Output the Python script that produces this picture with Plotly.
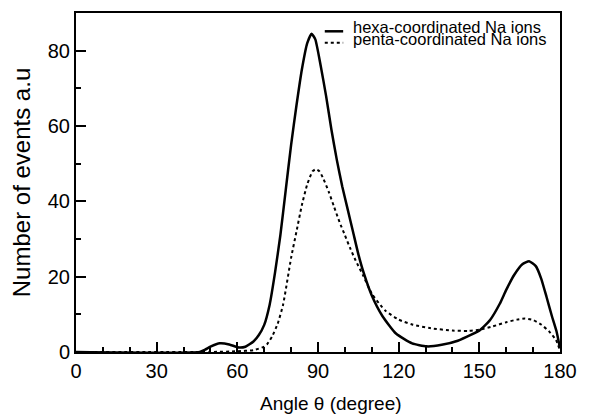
import plotly.graph_objects as go

# ---- data ----
hexa_angle = [0, 46, 48, 50, 53.5, 57, 60.5, 63, 66, 68, 70, 72, 74, 76, 78, 80, 82, 84,
              86, 87.6, 89, 91, 93, 95, 97, 99, 101, 103, 105, 107, 110, 114, 119, 125,
              130.4, 136, 142, 147, 150.2, 154, 157.6, 160, 163, 166, 168.5, 171, 173,
              175, 177, 178.7, 180]
hexa_events = [0, 0, 0.6, 1.4, 2.3, 2.0, 1.2, 1.4, 2.8, 4.5, 7.2, 12.5, 21, 31, 43, 55,
               65.5, 75, 82, 84.5, 83, 76, 68, 59, 51, 44, 38, 32, 26, 21, 15, 9.5, 4.9,
               2.3, 1.5, 1.9, 3.0, 4.6, 5.8, 8.5, 12.8, 16.5, 20.5, 23.3, 24.1, 22.8,
               19.5, 14.6, 9.5, 5.5, 1]

penta_angle = [0, 50, 60, 66, 69.6, 71, 73, 75, 77, 80, 82, 84, 86, 88, 89.2, 90.5, 92,
               94, 96, 98, 100, 102, 104, 106.8, 110, 115, 120, 125, 132, 140, 146, 150,
               155, 160, 164, 167, 170, 173, 176, 178.5, 180]
penta_events = [0, 0, 0.2, 0.5, 1.3, 2.0, 4.2, 7.5, 12.5, 25, 32, 39, 44.5, 48, 48.5,
                48, 46, 42.5, 38.5, 34.5, 31, 27.5, 24.3, 20.3, 15.5, 11, 8.6, 7.3, 6.3,
                5.7, 5.6, 5.9, 6.8, 7.9, 8.6, 8.9, 8.5, 7.3, 5.4, 3.2, 0.5]

series_names = ["hexa-coordinated Na ions", "penta-coordinated Na ions"]
x_ticks = [0, 30, 60, 90, 120, 150, 180]
y_ticks = [0, 20, 40, 60, 80]
x_title = "Angle θ (degree)"
y_title = "Number of events a.u"

FONT = "Arial, Liberation Sans, sans-serif"

fig = go.Figure()
fig.add_trace(go.Scatter(x=hexa_angle, y=hexa_events, mode="lines", name=series_names[0],
                         line=dict(color="black", width=2.5, shape="spline", smoothing=0.5),
                         showlegend=False))
fig.add_trace(go.Scatter(x=penta_angle, y=penta_events, mode="lines", name=series_names[1],
                         line=dict(color="black", width=2, dash="dot", shape="spline", smoothing=0.5),
                         showlegend=False))

# legend drawn as text + sample lines
fig.add_shape(type="line", xref="paper", yref="paper", x0=0.514, x1=0.552, y0=0.946, y1=0.946,
              line=dict(color="black", width=2.5))
fig.add_shape(type="line", xref="paper", yref="paper", x0=0.514, x1=0.552, y0=0.912, y1=0.912,
              line=dict(color="black", width=2, dash="dot"))
fig.add_annotation(xref="paper", yref="paper", x=0.568, y=0.958, text=series_names[0],
                   showarrow=False, xanchor="left", yanchor="middle",
                   font=dict(family=FONT, size=16.5, color="black"))
fig.add_annotation(xref="paper", yref="paper", x=0.568, y=0.922, text=series_names[1],
                   showarrow=False, xanchor="left", yanchor="middle",
                   font=dict(family=FONT, size=16.5, color="black"))

# x-axis title (placed slightly right of centre, as in the reference)
fig.add_annotation(xref="paper", yref="paper", x=0.527, y=-0.152, text=x_title,
                   showarrow=False, xanchor="center", yanchor="middle",
                   font=dict(family=FONT, size=19, color="black"))

# the page body has an 8px margin, so the figure is sized to fit the window
fig.update_layout(
    width=589, height=410,
    margin=dict(l=68, r=37, t=5, b=66),
    paper_bgcolor="white", plot_bgcolor="white",
    font=dict(family=FONT, color="black"),
    xaxis=dict(
        range=[0, 180], tickmode="array", tickvals=x_ticks, automargin=False,
        ticks="inside", ticklen=10, tickwidth=1.5, tickcolor="black",
        minor=dict(ticks="inside", ticklen=5, dtick=10, tickwidth=1.5, tickcolor="black"),
        showline=True, linecolor="black", linewidth=2, mirror=True,
        showgrid=False, zeroline=False,
        tickfont=dict(size=20),
    ),
    yaxis=dict(
        range=[0, 90], tickmode="array", tickvals=y_ticks, automargin=False,
        ticks="inside", ticklen=10, tickwidth=1.5, tickcolor="black",
        minor=dict(ticks="inside", ticklen=5, dtick=10, tickwidth=1.5, tickcolor="black"),
        showline=True, linecolor="black", linewidth=2, mirror=True,
        showgrid=False, zeroline=False,
        tickfont=dict(size=20),
        title=dict(text=y_title, font=dict(size=24), standoff=12),
    ),
)

fig.write_html("out.html")
